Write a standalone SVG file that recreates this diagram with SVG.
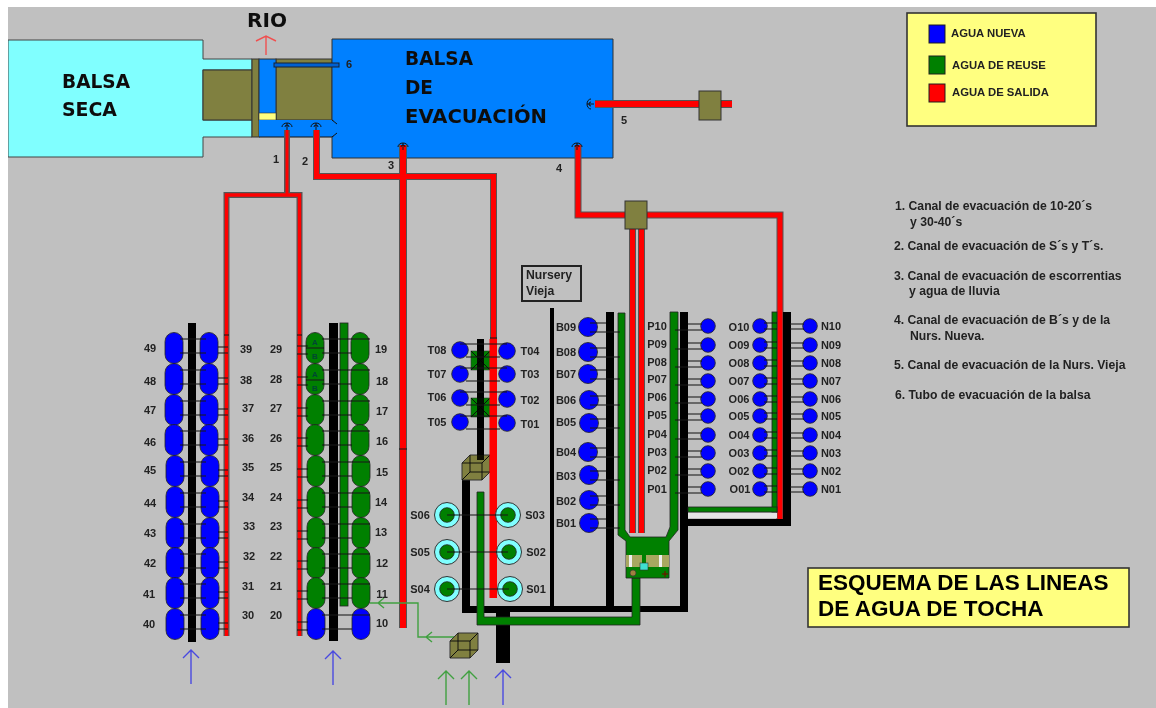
<svg xmlns="http://www.w3.org/2000/svg" width="1156" height="708" viewBox="0 0 1156 708">
<style>
text{font-family:"Liberation Sans",Arial,sans-serif;font-weight:bold;fill:#222}
.n{font-size:11px;text-anchor:middle}
.l{font-size:12.200px}
.lg{font-size:11.300px}
.tt{font-size:22.500px;fill:#000}
.big{font-family:"DejaVu Sans",sans-serif;font-size:20px;fill:#111}
.o{fill:none;stroke:#555;stroke-linejoin:miter}
.r{fill:none;stroke:#f00;stroke-linejoin:miter}
.k{fill:#000}
.g{fill:#008000;stroke:#222;stroke-width:.8}
.b{fill:#00f;stroke:#222;stroke-width:.8}
.t{fill:none;stroke:#111;stroke-width:1}
.ar{fill:none;stroke-width:1.4}
.box{fill:#ffff80;stroke:#333;stroke-width:1.6}
.br{fill:#808040;stroke:#333;stroke-width:1}
.bl{fill:#0080ff;stroke:#333;stroke-width:1}
.ring{fill:#80ffff;stroke:#333;stroke-width:1}
</style>
<defs>
<filter id="soft" x="0" y="0" width="100%" height="100%"><feGaussianBlur stdDeviation="0.6"/></filter>
<rect id="cap" x="-9" y="-15.5" width="18" height="31" rx="9"/>
<circle id="c7" r="7.300"/>
<circle id="c8" r="8.300"/>
<circle id="c9" r="9.500"/>
<path id="ab" d="M180 -9H206M180 5H206M218 -1H228M218 5H228"/>
<path id="cd" d="M297 -2H308M297 6H308M322 -9H370M322 5H352"/>
<path id="bc" d="M590 -4H606M590 5H620"/>
<path id="pc" d="M688 -2H702M675 4H702"/>
<path id="oc" d="M764 -3H777M764 3H777M790 -2H804M790 3H804"/>
<path id="tc" d="M460 -6H507M466 7H500"/>
<g id="cube">
<path class="br" d="M450 641L458 633H478V650L470 658H450Z"/>
<path class="t" d="M450 641H470V658M470 641L478 633M458 633V650H478M458 650L450 658"/>
</g>
<path id="head" class="t" d="M-5 1A5 4 0 0 1 5 1M0 -3V4M-2 1A2 2 0 0 1 2 1"/>
</defs>
<rect width="1156" height="708" fill="#fff"/>
<g filter="url(#soft)">
<rect x="8" y="7" width="1148" height="701" fill="#c0c0c0"/>

<g id="balsa-seca">
<path d="M8 40H203V59H252V70H203V120H252V137H203V157H8Z" fill="#80ffff" stroke="#444" stroke-width="1"/>
<text class="big" x="62" y="88" textLength="68" lengthAdjust="spacingAndGlyphs">BALSA</text>
<text class="big" x="62" y="116" textLength="55" lengthAdjust="spacingAndGlyphs">SECA</text>
</g>
<g id="estructura">
<rect class="br" x="203" y="70" width="49" height="50"/>
<rect class="br" x="252" y="59" width="7" height="78"/>
<rect class="br" x="276" y="59" width="56" height="61"/>
<rect class="bl" x="259" y="59" width="17" height="61"/>
<rect x="259" y="113" width="17" height="7" fill="#ffff80" stroke="#333" stroke-width=".6"/>
<path d="M259 120H332V137H259Z" fill="#0080ff"/>
<path class="t" d="M259 137H332"/>
</g>
<g id="balsa-evacuacion">
<path d="M332 39H613V158H332V137L337 133V124L332 120Z" fill="#0080ff" stroke="#333" stroke-width="1"/>
<path d="M330 121H338V136H330Z" fill="#0080ff"/>
<path class="t" d="M332 120L337 124M332 137L337 133"/>
<text class="big" x="405" y="65" textLength="68" lengthAdjust="spacingAndGlyphs">BALSA</text>
<text class="big" x="405" y="94" textLength="28" lengthAdjust="spacingAndGlyphs">DE</text>
<text class="big" x="405" y="123" textLength="142" lengthAdjust="spacingAndGlyphs">EVACUACIÓN</text>
</g>
<g id="tubo-6">
<rect x="274" y="63" width="65" height="4" fill="#0060d0" stroke="#123" stroke-width="1"/>
<text class="n" x="349" y="68">6</text>
</g>
<g id="rio">
<text class="big" x="247" y="27" textLength="40" lengthAdjust="spacingAndGlyphs">RIO</text>
<path class="ar" stroke="#f05050" d="M266 55V36M256 41L266 36L276 41"/>
</g>

<g id="connectors">
<g id="pipes-red">
<path class="o" stroke-width="6" d="M287 130V195"/>
<path class="o" stroke-width="6" d="M226.500 636V195H299.500V636"/>
<path class="o" stroke-width="7" d="M316.500 130V176.500H493.500V598"/>
<path class="o" stroke-width="8" d="M403 145V628"/>
<path class="o" stroke-width="7" d="M578 145V215H780V522"/>
<path class="o" stroke-width="7" d="M632.500 229V533M641.500 229V533"/>
<path class="o" stroke-width="8" d="M595 104H732"/>
<path class="r" stroke-width="3" d="M287 130V195"/>
<path class="r" stroke-width="3.500" d="M226.500 636V195H299.500V636"/>
<path class="r" stroke-width="5" d="M316.500 130V176.500H493.500V598"/>
<path class="r" stroke-width="6" d="M403 145V628"/>
<path class="r" stroke-width="5" d="M578 145V215H780V522"/>
<path class="r" stroke-width="5" d="M632.500 229V533M641.500 229V533"/>
<path class="r" stroke-width="6" d="M595 104H732"/>
<path class="t" d="M224 335H229M297 335H302M399 449H407M490 338H497"/>
</g>
<g id="bars">
<rect class="k" x="188" y="323" width="8" height="319"/>
<rect class="k" x="329" y="323" width="9" height="318"/>
<rect class="g" x="340" y="323" width="8" height="283"/>
<rect class="k" x="477" y="339" width="7" height="121"/>
<path class="k" d="M462 470H470V606H550V308H554V606H606V312H614V606H680V312H688V612H510V663H496V613H462Z"/>
<path class="g" d="M477 492H484V617H632V578H640V625H477Z"/>
<rect class="g" x="772" y="312" width="5" height="200"/>
<rect class="g" x="688" y="507" width="89" height="5"/>
<rect x="688" y="513" width="89" height="5" fill="#e4e4e4"/>
<path class="k" d="M783 312H791V526H688V519H783Z"/>
<path class="g" d="M618 313H625V530L630 537H666L670 527V312H678V530L669 541V578H626V541L618 535Z"/>
</g>
<g id="valvula">
<rect x="626" y="555" width="43" height="12" fill="#a8a860"/>
<path d="M642 555H646V563H642Z" fill="#008000"/>
<rect x="629" y="555" width="3" height="12" fill="#eee"/>
<rect x="659" y="555" width="3" height="12" fill="#eee"/>
<rect x="640" y="563" width="8" height="7" fill="#40e0d0" stroke="#333" stroke-width=".6"/>
<circle cx="633" cy="573" r="3" fill="#a08040" stroke="#333" stroke-width=".6"/>
<path d="M662 574H668M665 571V577" stroke="#800000" stroke-width="1" fill="none"/>
</g>
<g id="cabezales">
<use href="#head" x="287" y="126"/><use href="#head" x="316" y="126"/><use href="#head" x="403" y="146"/><use href="#head" x="577" y="146"/><use href="#head" transform="translate(590 104) rotate(-90)"/>
</g>
<g id="flechas">
<path class="ar" stroke="#4a4ae0" d="M191 684V650M183 658L191 650L199 658M333 685V651M325 659L333 651L341 659M503 705V670M495 678L503 670L511 678"/>
<path class="ar" stroke="#40a040" d="M446 705V671M438 679L446 671L454 679M469 705V671M461 679L469 671L477 679"/>
<path class="ar" stroke="#40a040" d="M455 637H418V603H370M432 632L426 637L432 642M384 598L378 603L384 608"/>
</g>
</g>

<g id="cajas">
<rect class="br" x="699" y="91" width="22" height="29"/>
<rect class="br" x="625" y="201" width="22" height="28"/>
<use href="#cube" x="12" y="-178"/>
<use href="#cube"/>
<rect x="471" y="351" width="19" height="19" fill="#008000" stroke="#333" stroke-width=".6"/>
<rect x="471" y="398" width="19" height="19" fill="#008000" stroke="#333" stroke-width=".6"/>
<path class="t" d="M471 351L490 370M490 351L471 370M471 398L490 417M490 398L471 417"/>
<rect class="k" x="477" y="339" width="7" height="121" opacity=".9"/>
<rect x="489.500" y="339" width="7.500" height="259" fill="#f00"/>
</g>

<g id="n49"><use href="#cap" x="174" y="348" class="b"/><text class="n" x="150" y="352">49</text></g>
<g id="n48"><use href="#cap" x="174" y="379" class="b"/><text class="n" x="150" y="385">48</text></g>
<g id="n47"><use href="#cap" x="174" y="410" class="b"/><text class="n" x="150" y="414">47</text></g>
<g id="n46"><use href="#cap" x="174" y="440" class="b"/><text class="n" x="150" y="446">46</text></g>
<g id="n45"><use href="#cap" x="175" y="471" class="b"/><text class="n" x="150" y="474">45</text></g>
<g id="n44"><use href="#cap" x="175" y="502" class="b"/><text class="n" x="150" y="507">44</text></g>
<g id="n43"><use href="#cap" x="175" y="533" class="b"/><text class="n" x="150" y="537">43</text></g>
<g id="n42"><use href="#cap" x="175" y="563" class="b"/><text class="n" x="150" y="567">42</text></g>
<g id="n41"><use href="#cap" x="175" y="593" class="b"/><text class="n" x="149" y="598">41</text></g>
<g id="n40"><use href="#cap" x="175" y="624" class="b"/><text class="n" x="149" y="628">40</text></g>

<g id="n39"><use href="#cap" x="209" y="348" class="b"/><text class="n" x="246" y="353">39</text></g>
<g id="n38"><use href="#cap" x="209" y="379" class="b"/><text class="n" x="246" y="384">38</text></g>
<g id="n37"><use href="#cap" x="209" y="410" class="b"/><text class="n" x="248" y="412">37</text></g>
<g id="n36"><use href="#cap" x="209" y="440" class="b"/><text class="n" x="248" y="442">36</text></g>
<g id="n35"><use href="#cap" x="210" y="471" class="b"/><text class="n" x="248" y="471">35</text></g>
<g id="n34"><use href="#cap" x="210" y="502" class="b"/><text class="n" x="248" y="501">34</text></g>
<g id="n33"><use href="#cap" x="210" y="533" class="b"/><text class="n" x="249" y="530">33</text></g>
<g id="n32"><use href="#cap" x="210" y="563" class="b"/><text class="n" x="249" y="560">32</text></g>
<g id="n31"><use href="#cap" x="210" y="593" class="b"/><text class="n" x="248" y="590">31</text></g>
<g id="n30"><use href="#cap" x="210" y="624" class="b"/><text class="n" x="248" y="619">30</text></g>

<g id="n29"><use href="#cap" x="315" y="348" class="g"/><path d="M306 348H324" stroke="#111" fill="none"/><text x="315" y="345" font-size="8" text-anchor="middle" style="fill:#043">A</text><text x="315" y="359" font-size="8" text-anchor="middle" style="fill:#043">B</text><text class="n" x="276" y="353">29</text></g>
<g id="n28"><use href="#cap" x="315" y="379" class="g"/><path d="M306 380H324" stroke="#111" fill="none"/><text x="315" y="377" font-size="8" text-anchor="middle" style="fill:#043">A</text><text x="315" y="391" font-size="8" text-anchor="middle" style="fill:#043">B</text><text class="n" x="276" y="383">28</text></g>
<g id="n27"><use href="#cap" x="315" y="410" class="g"/><text class="n" x="276" y="412">27</text></g>
<g id="n26"><use href="#cap" x="315" y="440" class="g"/><text class="n" x="276" y="442">26</text></g>
<g id="n25"><use href="#cap" x="316" y="471" class="g"/><text class="n" x="276" y="471">25</text></g>
<g id="n24"><use href="#cap" x="316" y="502" class="g"/><text class="n" x="276" y="501">24</text></g>
<g id="n23"><use href="#cap" x="316" y="533" class="g"/><text class="n" x="276" y="530">23</text></g>
<g id="n22"><use href="#cap" x="316" y="563" class="g"/><text class="n" x="276" y="560">22</text></g>
<g id="n21"><use href="#cap" x="316" y="593" class="g"/><text class="n" x="276" y="590">21</text></g>
<g id="n20"><use href="#cap" x="316" y="624" class="b"/><text class="n" x="276" y="619">20</text></g>

<g id="n19"><use href="#cap" x="360" y="348" class="g"/><text class="n" x="381" y="353">19</text></g>
<g id="n18"><use href="#cap" x="360" y="379" class="g"/><text class="n" x="382" y="385">18</text></g>
<g id="n17"><use href="#cap" x="360" y="410" class="g"/><text class="n" x="382" y="415">17</text></g>
<g id="n16"><use href="#cap" x="360" y="440" class="g"/><text class="n" x="382" y="445">16</text></g>
<g id="n15"><use href="#cap" x="361" y="471" class="g"/><text class="n" x="382" y="476">15</text></g>
<g id="n14"><use href="#cap" x="361" y="502" class="g"/><text class="n" x="381" y="506">14</text></g>
<g id="n13"><use href="#cap" x="361" y="533" class="g"/><text class="n" x="381" y="536">13</text></g>
<g id="n12"><use href="#cap" x="361" y="563" class="g"/><text class="n" x="382" y="567">12</text></g>
<g id="n11"><use href="#cap" x="361" y="593" class="g"/><text class="n" x="382" y="598">11</text></g>
<g id="n10"><use href="#cap" x="361" y="624" class="b"/><text class="n" x="382" y="627">10</text></g>

<g id="t08"><use href="#c8" x="460" y="350" class="b"/><text class="n" x="437" y="354">T08</text></g>
<g id="t07"><use href="#c8" x="460" y="374" class="b"/><text class="n" x="437" y="378">T07</text></g>
<g id="t06"><use href="#c8" x="460" y="398" class="b"/><text class="n" x="437" y="401">T06</text></g>
<g id="t05"><use href="#c8" x="460" y="422" class="b"/><text class="n" x="437" y="426">T05</text></g>
<g id="t04"><use href="#c8" x="507" y="351" class="b"/><text class="n" x="530" y="355">T04</text></g>
<g id="t03"><use href="#c8" x="507" y="374" class="b"/><text class="n" x="530" y="378">T03</text></g>
<g id="t02"><use href="#c8" x="507" y="399" class="b"/><text class="n" x="530" y="404">T02</text></g>
<g id="t01"><use href="#c8" x="507" y="423" class="b"/><text class="n" x="530" y="428">T01</text></g>

<g id="s06"><circle class="ring" cx="447" cy="515" r="12.500"/><use href="#c7" x="447" y="515" class="g"/><text class="n" x="420" y="519">S06</text></g>
<g id="s05"><circle class="ring" cx="447" cy="552" r="12.500"/><use href="#c7" x="447" y="552" class="g"/><text class="n" x="420" y="556">S05</text></g>
<g id="s04"><circle class="ring" cx="447" cy="589" r="12.500"/><use href="#c7" x="447" y="589" class="g"/><text class="n" x="420" y="593">S04</text></g>
<g id="s03"><circle class="ring" cx="508" cy="515" r="12.500"/><use href="#c7" x="508" y="515" class="g"/><text class="n" x="535" y="519">S03</text></g>
<g id="s02"><circle class="ring" cx="509" cy="552" r="12.500"/><use href="#c7" x="509" y="552" class="g"/><text class="n" x="536" y="556">S02</text></g>
<g id="s01"><circle class="ring" cx="510" cy="589" r="12.500"/><use href="#c7" x="510" y="589" class="g"/><text class="n" x="536" y="593">S01</text></g>

<g id="b09"><use href="#c9" x="588" y="327" class="b"/><text class="n" x="566" y="331">B09</text></g>
<g id="b08"><use href="#c9" x="588" y="352" class="b"/><text class="n" x="566" y="356">B08</text></g>
<g id="b07"><use href="#c9" x="588" y="374" class="b"/><text class="n" x="566" y="378">B07</text></g>
<g id="b06"><use href="#c9" x="589" y="400" class="b"/><text class="n" x="566" y="404">B06</text></g>
<g id="b05"><use href="#c9" x="589" y="423" class="b"/><text class="n" x="566" y="426">B05</text></g>
<g id="b04"><use href="#c9" x="588" y="452" class="b"/><text class="n" x="566" y="456">B04</text></g>
<g id="b03"><use href="#c9" x="589" y="475" class="b"/><text class="n" x="566" y="480">B03</text></g>
<g id="b02"><use href="#c9" x="589" y="500" class="b"/><text class="n" x="566" y="505">B02</text></g>
<g id="b01"><use href="#c9" x="589" y="523" class="b"/><text class="n" x="566" y="527">B01</text></g>

<g id="p10"><use href="#c7" x="708" y="326" class="b"/><text class="n" x="657" y="330">P10</text></g>
<g id="p09"><use href="#c7" x="708" y="345" class="b"/><text class="n" x="657" y="348">P09</text></g>
<g id="p08"><use href="#c7" x="708" y="363" class="b"/><text class="n" x="657" y="366">P08</text></g>
<g id="p07"><use href="#c7" x="708" y="381" class="b"/><text class="n" x="657" y="383">P07</text></g>
<g id="p06"><use href="#c7" x="708" y="399" class="b"/><text class="n" x="657" y="401">P06</text></g>
<g id="p05"><use href="#c7" x="708" y="416" class="b"/><text class="n" x="657" y="419">P05</text></g>
<g id="p04"><use href="#c7" x="708" y="435" class="b"/><text class="n" x="657" y="438">P04</text></g>
<g id="p03"><use href="#c7" x="708" y="453" class="b"/><text class="n" x="657" y="456">P03</text></g>
<g id="p02"><use href="#c7" x="708" y="471" class="b"/><text class="n" x="657" y="474">P02</text></g>
<g id="p01"><use href="#c7" x="708" y="489" class="b"/><text class="n" x="657" y="493">P01</text></g>

<g id="o10"><use href="#c7" x="760" y="326" class="b"/><text class="n" x="739" y="331">O10</text></g>
<g id="o09"><use href="#c7" x="760" y="345" class="b"/><text class="n" x="739" y="349">O09</text></g>
<g id="o08"><use href="#c7" x="760" y="363" class="b"/><text class="n" x="739" y="367">O08</text></g>
<g id="o07"><use href="#c7" x="760" y="381" class="b"/><text class="n" x="739" y="385">O07</text></g>
<g id="o06"><use href="#c7" x="760" y="399" class="b"/><text class="n" x="739" y="403">O06</text></g>
<g id="o05"><use href="#c7" x="760" y="416" class="b"/><text class="n" x="739" y="420">O05</text></g>
<g id="o04"><use href="#c7" x="760" y="435" class="b"/><text class="n" x="739" y="439">O04</text></g>
<g id="o03"><use href="#c7" x="760" y="453" class="b"/><text class="n" x="739" y="457">O03</text></g>
<g id="o02"><use href="#c7" x="760" y="471" class="b"/><text class="n" x="739" y="475">O02</text></g>
<g id="o01"><use href="#c7" x="760" y="489" class="b"/><text class="n" x="740" y="493">O01</text></g>

<g id="n_10"><use href="#c7" x="810" y="326" class="b"/><text class="n" x="831" y="330">N10</text></g>
<g id="n_09"><use href="#c7" x="810" y="345" class="b"/><text class="n" x="831" y="349">N09</text></g>
<g id="n_08"><use href="#c7" x="810" y="363" class="b"/><text class="n" x="831" y="367">N08</text></g>
<g id="n_07"><use href="#c7" x="810" y="381" class="b"/><text class="n" x="831" y="385">N07</text></g>
<g id="n_06"><use href="#c7" x="810" y="399" class="b"/><text class="n" x="831" y="403">N06</text></g>
<g id="n_05"><use href="#c7" x="810" y="416" class="b"/><text class="n" x="831" y="420">N05</text></g>
<g id="n_04"><use href="#c7" x="810" y="435" class="b"/><text class="n" x="831" y="439">N04</text></g>
<g id="n_03"><use href="#c7" x="810" y="453" class="b"/><text class="n" x="831" y="457">N03</text></g>
<g id="n_02"><use href="#c7" x="810" y="471" class="b"/><text class="n" x="831" y="475">N02</text></g>
<g id="n_01"><use href="#c7" x="810" y="489" class="b"/><text class="n" x="831" y="493">N01</text></g>

<g id="connectors-tomas" class="t">
<use href="#ab" y="348"/><use href="#ab" y="379"/><use href="#ab" y="410"/><use href="#ab" y="440"/><use href="#ab" y="471"/><use href="#ab" y="502"/><use href="#ab" y="533"/><use href="#ab" y="563"/><use href="#ab" y="593"/><use href="#ab" y="624"/>
<use href="#cd" y="348"/><use href="#cd" y="379"/><use href="#cd" y="410"/><use href="#cd" y="440"/><use href="#cd" y="471"/><use href="#cd" y="502"/><use href="#cd" y="533"/><use href="#cd" y="563"/><use href="#cd" y="593"/><use href="#cd" y="624"/>
<use href="#bc" y="327"/><use href="#bc" y="352"/><use href="#bc" y="374"/><use href="#bc" y="400"/><use href="#bc" y="423"/><use href="#bc" y="452"/><use href="#bc" y="475"/><use href="#bc" y="500"/><use href="#bc" y="523"/>
<use href="#pc" y="326"/><use href="#pc" y="345"/><use href="#pc" y="363"/><use href="#pc" y="381"/><use href="#pc" y="399"/><use href="#pc" y="416"/><use href="#pc" y="435"/><use href="#pc" y="453"/><use href="#pc" y="471"/><use href="#pc" y="489"/>
<use href="#oc" y="326"/><use href="#oc" y="345"/><use href="#oc" y="363"/><use href="#oc" y="381"/><use href="#oc" y="399"/><use href="#oc" y="416"/><use href="#oc" y="435"/><use href="#oc" y="453"/><use href="#oc" y="471"/><use href="#oc" y="489"/>
<use href="#tc" y="350"/><use href="#tc" y="374"/><use href="#tc" y="398"/><use href="#tc" y="422"/>
<path d="M447 515H508M447 552H508M447 589H509"/>
</g>

<g id="nums">
<text class="n" x="276" y="163">1</text>
<text class="n" x="305" y="165">2</text>
<text class="n" x="391" y="169">3</text>
<text class="n" x="559" y="172">4</text>
<text class="n" x="624" y="124">5</text>
</g>

<g id="nursery">
<rect x="522" y="266" width="59" height="35" fill="#c0c0c0" stroke="#222" stroke-width="2"/>
<text class="l" x="526" y="279">Nursery</text>
<text class="l" x="526" y="295">Vieja</text>
</g>

<g id="leyenda">
<rect class="box" x="907" y="13" width="189" height="113"/>
<rect x="929" y="25" width="16" height="18" fill="#00f" stroke="#222"/>
<rect x="929" y="56" width="16" height="18" fill="#008000" stroke="#222"/>
<rect x="929" y="84" width="16" height="18" fill="#f00" stroke="#222"/>
<text class="lg" x="951" y="37">AGUA NUEVA</text>
<text class="lg" x="952" y="69">AGUA DE REUSE</text>
<text class="lg" x="952" y="96">AGUA DE SALIDA</text>
</g>

<g id="notas">
<text class="l" x="895" y="210">1. Canal de evacuación de 10-20´s</text>
<text class="l" x="910" y="226">y 30-40´s</text>
<text class="l" x="894" y="250">2. Canal de evacuación de S´s y T´s.</text>
<text class="l" x="894" y="280">3. Canal de evacuación de escorrentias</text>
<text class="l" x="909" y="295">y agua de lluvia</text>
<text class="l" x="894" y="324">4. Canal de evacuación de B´s y de la</text>
<text class="l" x="910" y="340">Nurs. Nueva.</text>
<text class="l" x="894" y="369">5. Canal de evacuación de la Nurs. Vieja</text>
<text class="l" x="895" y="399">6. Tubo de evacuación de la balsa</text>
</g>

<g id="titulo">
<rect class="box" x="808" y="568" width="321" height="59"/>
<text class="tt" x="818" y="590">ESQUEMA DE LAS LINEAS</text>
<text class="tt" x="818" y="616">DE AGUA DE TOCHA</text>
</g>
</g>
</svg>
